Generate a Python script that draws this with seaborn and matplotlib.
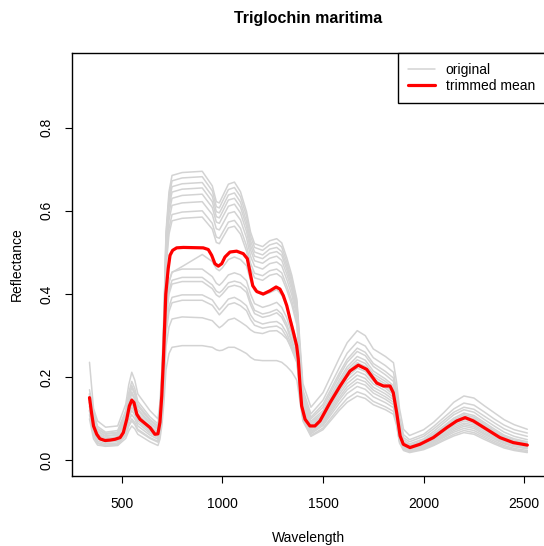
import matplotlib
matplotlib.use("Agg")
import matplotlib.pyplot as plt
from matplotlib.lines import Line2D
import pandas as pd
import seaborn as sns

sns.set_style("ticks")
plt.rcParams["font.family"] = ["Liberation Sans", "DejaVu Sans"]
plt.rcParams["text.color"] = "black"

# Wavelength grid (nm) shared by the individual spectra
wavelength = [340, 360, 380, 420, 480, 520, 535, 550, 565, 580, 640, 680,
              690, 700, 710, 720, 735, 750,
              800, 900, 950, 970, 985, 1000, 1030, 1060, 1090, 1120, 1140, 1160,
              1200, 1235, 1270, 1295, 1320, 1345, 1370,
              1400,
              1440, 1500, 1580, 1620, 1670, 1710, 1750, 1810, 1850, 1865, 1880, 1900,
              1930, 2000, 2050, 2100, 2150, 2200, 2250, 2300, 2350, 2400, 2450, 2515]

# Individual reflectance spectra
s01 = [0.150, 0.093, 0.065, 0.054, 0.057, 0.095, 0.129, 0.150, 0.137, 0.113, 0.083, 0.069,
       0.107, 0.194, 0.333, 0.549, 0.646, 0.685,
       0.692, 0.695, 0.660, 0.622, 0.619, 0.634, 0.664, 0.669, 0.646, 0.598, 0.549, 0.521,
       0.514, 0.528, 0.533, 0.523, 0.487, 0.445, 0.388,
       0.185,
       0.128, 0.163, 0.245, 0.283, 0.312, 0.300, 0.268, 0.250, 0.235, 0.190, 0.125, 0.075,
       0.060, 0.074, 0.092, 0.115, 0.140, 0.155, 0.150, 0.132, 0.115, 0.098, 0.086, 0.075]
s02 = [0.236, 0.125, 0.095, 0.080, 0.083, 0.135, 0.182, 0.212, 0.193, 0.160, 0.120, 0.100,
       0.138, 0.223, 0.359, 0.539, 0.634, 0.672,
       0.679, 0.682, 0.648, 0.610, 0.607, 0.622, 0.651, 0.656, 0.634, 0.587, 0.539, 0.512,
       0.505, 0.518, 0.523, 0.513, 0.477, 0.436, 0.381,
       0.170,
       0.112, 0.145, 0.222, 0.258, 0.285, 0.275, 0.247, 0.228, 0.212, 0.168, 0.105, 0.062,
       0.050, 0.063, 0.082, 0.103, 0.124, 0.138, 0.133, 0.117, 0.100, 0.085, 0.074, 0.066]
s03 = [0.160, 0.108, 0.075, 0.063, 0.066, 0.110, 0.151, 0.175, 0.159, 0.131, 0.096, 0.080,
       0.117, 0.200, 0.334, 0.528, 0.621, 0.658,
       0.665, 0.668, 0.635, 0.598, 0.595, 0.609, 0.638, 0.643, 0.621, 0.574, 0.528, 0.501,
       0.494, 0.508, 0.512, 0.502, 0.468, 0.428, 0.373,
       0.160,
       0.104, 0.135, 0.209, 0.243, 0.270, 0.260, 0.233, 0.214, 0.198, 0.155, 0.095, 0.055,
       0.045, 0.058, 0.076, 0.096, 0.116, 0.128, 0.123, 0.107, 0.091, 0.076, 0.066, 0.058]
s04 = [0.130, 0.080, 0.056, 0.047, 0.049, 0.081, 0.110, 0.128, 0.116, 0.096, 0.070, 0.058,
       0.094, 0.176, 0.307, 0.517, 0.609, 0.645,
       0.652, 0.655, 0.622, 0.586, 0.583, 0.597, 0.626, 0.630, 0.609, 0.563, 0.517, 0.491,
       0.485, 0.498, 0.502, 0.493, 0.459, 0.419, 0.365,
       0.155,
       0.100, 0.128, 0.202, 0.236, 0.262, 0.252, 0.226, 0.206, 0.190, 0.146, 0.088, 0.050,
       0.040, 0.052, 0.070, 0.090, 0.110, 0.122, 0.116, 0.099, 0.083, 0.068, 0.058, 0.050]
s05 = [0.170, 0.118, 0.082, 0.068, 0.072, 0.120, 0.163, 0.190, 0.173, 0.142, 0.105, 0.088,
       0.123, 0.203, 0.331, 0.506, 0.595, 0.630,
       0.637, 0.640, 0.608, 0.573, 0.570, 0.584, 0.611, 0.616, 0.595, 0.550, 0.506, 0.480,
       0.474, 0.486, 0.491, 0.481, 0.448, 0.410, 0.357,
       0.150,
       0.094, 0.120, 0.193, 0.225, 0.250, 0.241, 0.215, 0.196, 0.180, 0.137, 0.080, 0.045,
       0.037, 0.048, 0.065, 0.083, 0.102, 0.114, 0.108, 0.092, 0.076, 0.061, 0.052, 0.045]
s06 = [0.150, 0.099, 0.069, 0.058, 0.061, 0.101, 0.138, 0.160, 0.146, 0.120, 0.088, 0.074,
       0.108, 0.186, 0.310, 0.491, 0.578, 0.613,
       0.619, 0.622, 0.591, 0.557, 0.554, 0.567, 0.594, 0.598, 0.578, 0.535, 0.491, 0.467,
       0.460, 0.473, 0.477, 0.468, 0.435, 0.398, 0.347,
       0.145,
       0.090, 0.115, 0.186, 0.218, 0.242, 0.233, 0.208, 0.190, 0.174, 0.132, 0.076, 0.043,
       0.035, 0.046, 0.062, 0.080, 0.098, 0.110, 0.104, 0.088, 0.072, 0.058, 0.049, 0.042]
s07 = [0.140, 0.087, 0.060, 0.050, 0.053, 0.088, 0.120, 0.140, 0.127, 0.105, 0.077, 0.064,
       0.097, 0.172, 0.292, 0.474, 0.558, 0.591,
       0.597, 0.600, 0.570, 0.537, 0.534, 0.547, 0.573, 0.577, 0.558, 0.516, 0.474, 0.450,
       0.444, 0.456, 0.460, 0.451, 0.420, 0.384, 0.335,
       0.140,
       0.086, 0.110, 0.181, 0.212, 0.235, 0.226, 0.202, 0.184, 0.168, 0.128, 0.072, 0.041,
       0.033, 0.044, 0.059, 0.077, 0.094, 0.106, 0.100, 0.084, 0.069, 0.055, 0.046, 0.040]
s08 = [0.160, 0.112, 0.077, 0.065, 0.068, 0.113, 0.155, 0.180, 0.164, 0.135, 0.099, 0.083,
       0.115, 0.188, 0.305, 0.462, 0.544, 0.576,
       0.582, 0.585, 0.556, 0.524, 0.521, 0.534, 0.559, 0.563, 0.544, 0.503, 0.462, 0.439,
       0.433, 0.445, 0.449, 0.440, 0.410, 0.374, 0.326,
       0.138,
       0.083, 0.107, 0.176, 0.205, 0.228, 0.220, 0.196, 0.179, 0.163, 0.124, 0.068, 0.039,
       0.031, 0.042, 0.057, 0.074, 0.091, 0.103, 0.097, 0.081, 0.066, 0.053, 0.044, 0.038]
s09 = [0.155, 0.102, 0.071, 0.059, 0.063, 0.104, 0.142, 0.165, 0.150, 0.124, 0.091, 0.076,
       0.103, 0.166, 0.266, 0.370, 0.430, 0.452,
       0.466, 0.495, 0.478, 0.461, 0.456, 0.463, 0.483, 0.489, 0.483, 0.468, 0.433, 0.408,
       0.398, 0.403, 0.411, 0.398, 0.371, 0.329, 0.284,
       0.130,
       0.080, 0.104, 0.171, 0.200, 0.222, 0.214, 0.191, 0.174, 0.158, 0.122, 0.064, 0.038,
       0.030, 0.040, 0.054, 0.071, 0.088, 0.099, 0.093, 0.077, 0.063, 0.050, 0.042, 0.036]
s10 = [0.130, 0.075, 0.052, 0.044, 0.046, 0.076, 0.103, 0.120, 0.109, 0.090, 0.066, 0.055,
       0.080, 0.138, 0.230, 0.363, 0.428, 0.453,
       0.460, 0.460, 0.442, 0.426, 0.421, 0.428, 0.446, 0.451, 0.446, 0.432, 0.400, 0.377,
       0.368, 0.373, 0.380, 0.368, 0.343, 0.304, 0.262,
       0.125,
       0.077, 0.100, 0.165, 0.193, 0.214, 0.206, 0.184, 0.167, 0.152, 0.116, 0.060, 0.036,
       0.028, 0.038, 0.052, 0.068, 0.084, 0.095, 0.089, 0.074, 0.060, 0.048, 0.040, 0.034]
s11 = [0.140, 0.084, 0.058, 0.049, 0.051, 0.085, 0.116, 0.135, 0.123, 0.101, 0.074, 0.062,
       0.086, 0.141, 0.229, 0.348, 0.409, 0.433,
       0.440, 0.440, 0.422, 0.407, 0.403, 0.409, 0.427, 0.431, 0.427, 0.414, 0.383, 0.361,
       0.352, 0.356, 0.363, 0.352, 0.328, 0.290, 0.251,
       0.120,
       0.074, 0.096, 0.158, 0.185, 0.205, 0.197, 0.176, 0.160, 0.146, 0.111, 0.057, 0.034,
       0.027, 0.036, 0.049, 0.064, 0.080, 0.090, 0.085, 0.070, 0.057, 0.045, 0.038, 0.032]
s12 = [0.120, 0.068, 0.047, 0.040, 0.042, 0.069, 0.095, 0.110, 0.100, 0.083, 0.061, 0.051,
       0.075, 0.128, 0.214, 0.340, 0.400, 0.424,
       0.430, 0.430, 0.413, 0.398, 0.393, 0.400, 0.417, 0.421, 0.417, 0.404, 0.374, 0.353,
       0.344, 0.348, 0.355, 0.344, 0.320, 0.284, 0.245,
       0.115,
       0.070, 0.092, 0.151, 0.177, 0.196, 0.189, 0.169, 0.153, 0.140, 0.106, 0.054, 0.032,
       0.025, 0.034, 0.046, 0.061, 0.076, 0.086, 0.081, 0.066, 0.054, 0.042, 0.035, 0.030]
s13 = [0.150, 0.090, 0.062, 0.052, 0.055, 0.091, 0.125, 0.145, 0.132, 0.109, 0.080, 0.067,
       0.089, 0.139, 0.218, 0.314, 0.370, 0.392,
       0.398, 0.398, 0.386, 0.372, 0.362, 0.370, 0.388, 0.392, 0.384, 0.372, 0.350, 0.336,
       0.328, 0.332, 0.334, 0.326, 0.306, 0.275, 0.243,
       0.110,
       0.067, 0.088, 0.145, 0.170, 0.188, 0.181, 0.162, 0.147, 0.134, 0.102, 0.051, 0.030,
       0.023, 0.032, 0.044, 0.058, 0.072, 0.082, 0.077, 0.063, 0.051, 0.040, 0.033, 0.028]
s14 = [0.110, 0.062, 0.043, 0.037, 0.039, 0.063, 0.086, 0.100, 0.091, 0.075, 0.055, 0.046,
       0.067, 0.115, 0.192, 0.304, 0.358, 0.379,
       0.385, 0.385, 0.373, 0.360, 0.350, 0.358, 0.375, 0.379, 0.372, 0.360, 0.339, 0.325,
       0.318, 0.321, 0.323, 0.316, 0.296, 0.266, 0.235,
       0.105,
       0.064, 0.084, 0.137, 0.161, 0.178, 0.171, 0.153, 0.139, 0.127, 0.097, 0.048, 0.028,
       0.022, 0.030, 0.041, 0.055, 0.068, 0.077, 0.072, 0.059, 0.047, 0.036, 0.029, 0.024]
s15 = [0.120, 0.060, 0.041, 0.035, 0.037, 0.060, 0.082, 0.095, 0.086, 0.072, 0.053, 0.044,
       0.063, 0.106, 0.175, 0.273, 0.321, 0.340,
       0.345, 0.343, 0.336, 0.326, 0.319, 0.324, 0.338, 0.342, 0.333, 0.323, 0.314, 0.308,
       0.305, 0.311, 0.312, 0.304, 0.292, 0.269, 0.238,
       0.100,
       0.060, 0.078, 0.127, 0.149, 0.165, 0.158, 0.142, 0.129, 0.118, 0.090, 0.045, 0.026,
       0.021, 0.028, 0.038, 0.051, 0.063, 0.072, 0.067, 0.055, 0.043, 0.033, 0.026, 0.021]
s16 = [0.100, 0.052, 0.037, 0.034, 0.036, 0.053, 0.071, 0.083, 0.076, 0.063, 0.045, 0.036,
       0.051, 0.086, 0.141, 0.218, 0.257, 0.272,
       0.276, 0.276, 0.272, 0.266, 0.264, 0.265, 0.272, 0.272, 0.265, 0.257, 0.248, 0.242,
       0.240, 0.240, 0.240, 0.236, 0.226, 0.213, 0.193,
       0.095,
       0.058, 0.074, 0.120, 0.140, 0.155, 0.149, 0.134, 0.122, 0.111, 0.085, 0.042, 0.024,
       0.019, 0.026, 0.036, 0.048, 0.059, 0.067, 0.063, 0.051, 0.040, 0.030, 0.024, 0.019]

spectra = {"s01": s01, "s02": s02, "s03": s03, "s04": s04, "s05": s05, "s06": s06,
           "s07": s07, "s08": s08, "s09": s09, "s10": s10, "s11": s11, "s12": s12,
           "s13": s13, "s14": s14, "s15": s15, "s16": s16}

# Trimmed mean spectrum
mean_wavelength = [340, 350, 360, 376, 392, 417, 442, 467, 492, 508, 525, 538, 550, 561,
                   575, 591, 616, 641, 665, 680, 690, 699, 707, 713, 719, 731, 740, 753,
                   773, 806, 905, 930, 947, 963, 980, 997, 1013, 1038, 1071, 1104, 1124,
                   1137, 1151, 1171, 1203, 1237, 1267, 1286, 1303, 1320, 1336, 1353, 1369,
                   1377, 1386, 1394, 1411, 1435, 1460, 1485, 1535, 1585, 1634, 1675, 1717,
                   1767, 1800, 1833, 1849, 1866, 1883, 1899, 1932, 1982, 2048, 2115, 2164,
                   2206, 2247, 2313, 2379, 2445, 2515]
mean_reflectance = [0.151, 0.115, 0.083, 0.063, 0.052, 0.048, 0.049, 0.051, 0.055, 0.067,
                    0.099, 0.131, 0.145, 0.139, 0.111, 0.099, 0.089, 0.079, 0.063, 0.064,
                    0.092, 0.155, 0.240, 0.320, 0.400, 0.461, 0.493, 0.505, 0.511, 0.512,
                    0.511, 0.507, 0.493, 0.473, 0.467, 0.473, 0.489, 0.501, 0.503, 0.497,
                    0.485, 0.453, 0.420, 0.406, 0.400, 0.408, 0.417, 0.412, 0.396, 0.372,
                    0.340, 0.308, 0.276, 0.244, 0.179, 0.131, 0.099, 0.083, 0.083, 0.095,
                    0.139, 0.179, 0.215, 0.229, 0.219, 0.186, 0.179, 0.179, 0.163, 0.115,
                    0.059, 0.039, 0.031, 0.039, 0.055, 0.079, 0.095, 0.103, 0.095, 0.075,
                    0.055, 0.043, 0.037]

legend_labels = ["original", "trimmed mean"]
x_ticks = [500, 1000, 1500, 2000, 2500]
y_ticks = [0.0, 0.2, 0.4, 0.6, 0.8]

for name, vals in spectra.items():
    if len(vals) != len(wavelength):
        raise ValueError(f"{name}: {len(vals)} values for {len(wavelength)} wavelengths")

rows = [(name, w, r) for name, vals in spectra.items() for w, r in zip(wavelength, vals)]
df = pd.DataFrame(rows, columns=["sample", "wavelength", "reflectance"])
mean_df = pd.DataFrame({"wavelength": mean_wavelength, "reflectance": mean_reflectance})

W, H = 544, 546
fig = plt.figure(figsize=(W / 100, H / 100), dpi=100)
ax = fig.add_axes([71.7 / W, 1 - 476 / H, (545 - 71.7) / W, (476 - 52.7) / H])

gray = "#D3D3D3"
sns.lineplot(data=df, x="wavelength", y="reflectance", units="sample", estimator=None,
             sort=False, color=gray, linewidth=1.1, legend=False, ax=ax,
             solid_capstyle="round", solid_joinstyle="round")
sns.lineplot(data=mean_df, x="wavelength", y="reflectance", sort=False, color="#FF0000",
             linewidth=2.3, ax=ax, solid_capstyle="round", solid_joinstyle="round")

ax.set_xlim(251.6, 2602.8)
ax.set_ylim(-0.0373, 0.980)
ax.set_xlabel("")
ax.set_ylabel("")

ax.set_xticks(x_ticks)
ax.set_xticklabels([str(t) for t in x_ticks])
ax.set_yticks(y_ticks)
ax.set_yticklabels([f"{t:.1f}" for t in y_ticks], rotation=90, va="center")

fs = 10
ax.tick_params(axis="both", direction="out", length=5, width=0.8, color="black",
               labelsize=fs, labelcolor="black")
ax.tick_params(axis="x", pad=10.0)
ax.tick_params(axis="y", pad=8.0)
for sp in ax.spines.values():
    sp.set_visible(True)
    sp.set_color("black")
    sp.set_linewidth(1.0)

handles = [Line2D([0], [0], color=gray, linewidth=1.1),
           Line2D([0], [0], color="#FF0000", linewidth=2.3)]
leg = ax.legend(handles, legend_labels, loc="upper right", bbox_to_anchor=(1, 1),
                borderaxespad=0, frameon=True, fancybox=False, framealpha=1,
                edgecolor="black", fontsize=fs, handlelength=2.0, handletextpad=0.75,
                borderpad=0.72, labelspacing=0.15, labelcolor="black")
leg.get_frame().set_linewidth(1.0)

fig.text(308.5 / W, 1 - 23 / H, "Triglochin maritima", ha="center", va="baseline",
         fontsize=11.5, fontweight="bold", color="black")
fig.text(308.0 / W, 1 - 541.6 / H, "Wavelength", ha="center", va="baseline",
         fontsize=fs, color="black")
fig.text(21.0 / W, 1 - 264 / H, "Reflectance", rotation=90, rotation_mode="anchor",
         ha="center", va="baseline", fontsize=fs, color="black")

fig.savefig("out.png", dpi=100, facecolor="white")
